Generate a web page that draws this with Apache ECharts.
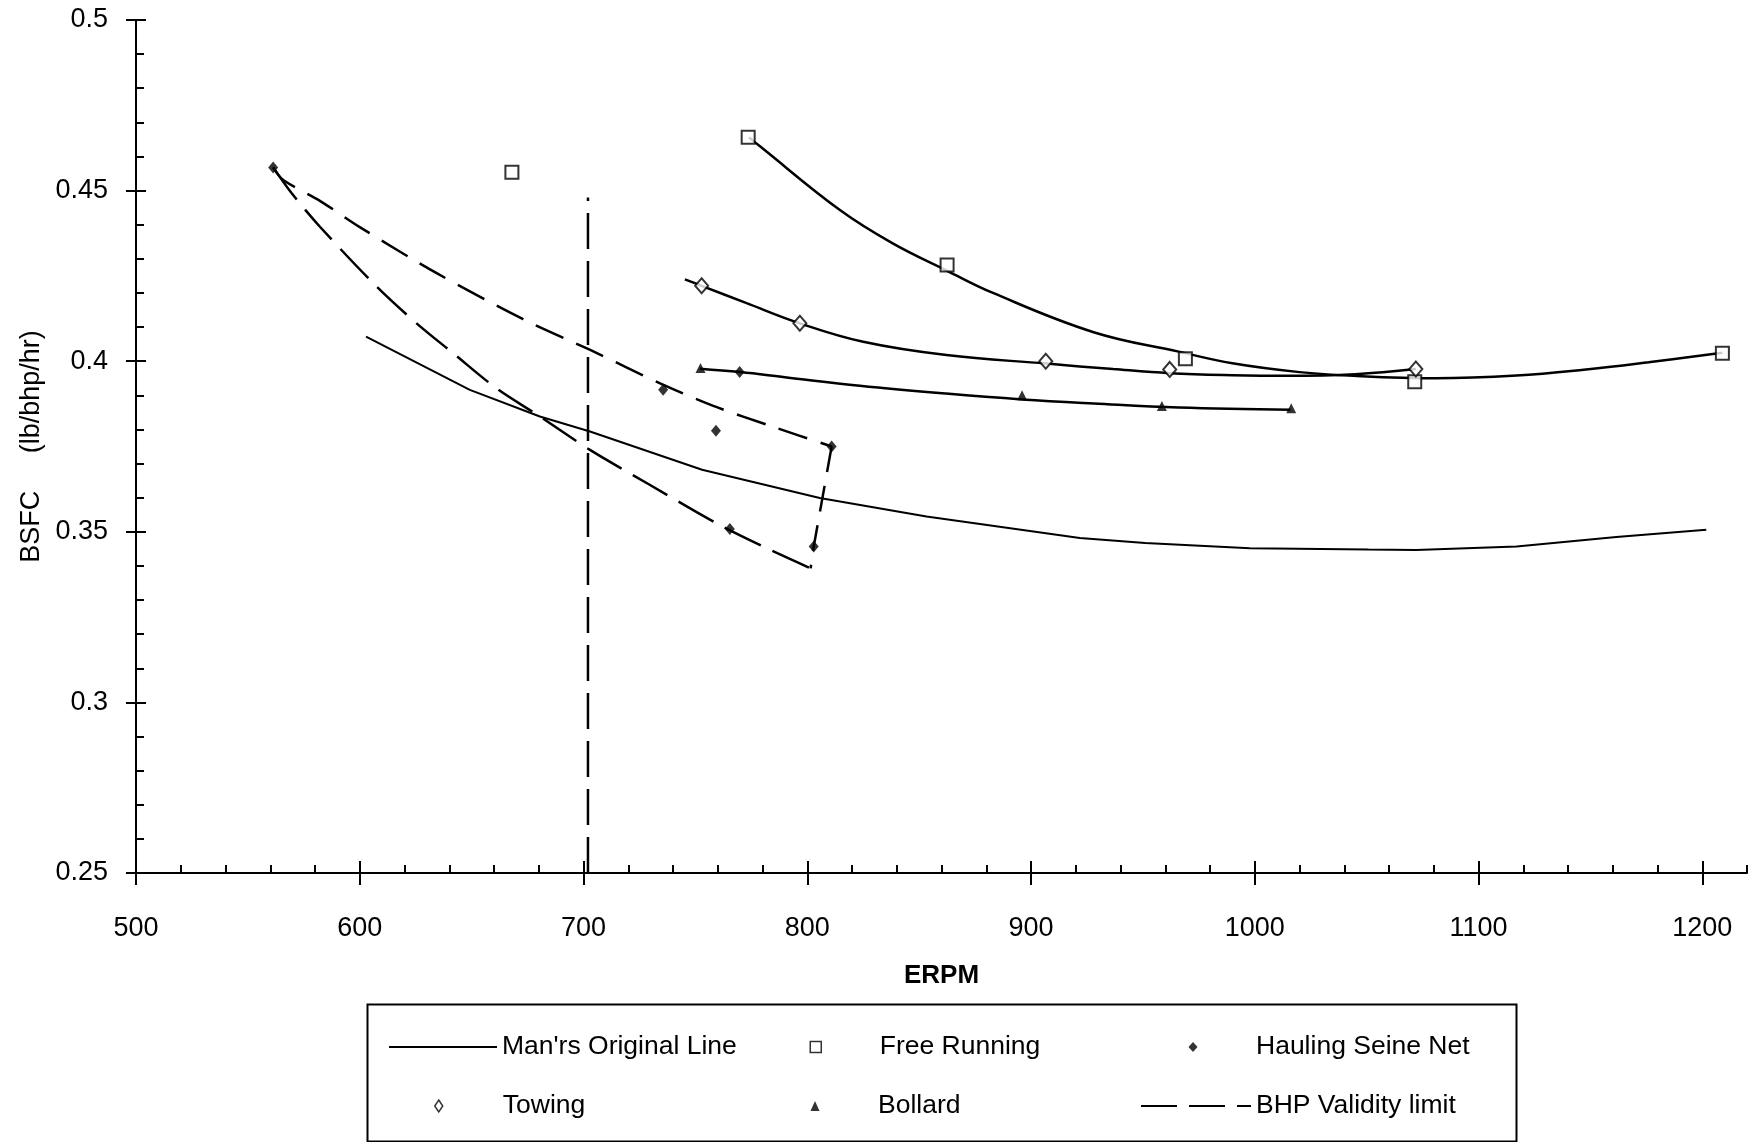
<!DOCTYPE html>
<html><head><meta charset="utf-8">
<script src="https://cdn.jsdelivr.net/npm/echarts@6/dist/echarts.min.js"></script>
<style>html,body{margin:0;padding:0;background:#fff}#c{width:1752px;height:1142px}</style>
</head><body><div id="c"></div>
<script>
// ---- data ----
const xTicks = [500, 600, 700, 800, 900, 1000, 1100, 1200];
const yTicks = [0.25, 0.3, 0.35, 0.4, 0.45, 0.5];

const freeRunning = [[668, 0.4554], [773.6, 0.4656], [862.5, 0.4282], [969, 0.4007], [1071.5, 0.3940], [1209, 0.4023]];
const towing = [[752.8, 0.4221], [796.7, 0.4111], [906.6, 0.4000], [962, 0.3976], [1072, 0.3977]];
const bollard = [[752.3, 0.3980], [896, 0.3900], [958.5, 0.3869], [1016.3, 0.3862]];
const hauling = [[561.3, 0.4568], [735.6, 0.3916], [759.2, 0.3796], [769.8, 0.3968], [810.9, 0.3750], [765.4, 0.3508], [802.9, 0.3457]];

const mansLine = [[602.8, 0.4072], [649.2, 0.3916], [680.5, 0.3838], [702.9, 0.3794], [753, 0.3682], [805.6, 0.3599], [853.3, 0.3545], [921.8, 0.3482], [951, 0.3467], [997.8, 0.3452], [1050.8, 0.3448], [1072, 0.3447], [1117, 0.3457], [1161.6, 0.3485], [1201.8, 0.3506]];
const bhpLimit = [[702, 0.25], [702, 0.448]];

const freeFit = [[774, 0.4656], [779, 0.4629], [814.6, 0.4443], [838, 0.4346], [862.5, 0.4265], [883, 0.4200], [928, 0.4085], [966, 0.4028], [990, 0.3994], [1020, 0.3968], [1044, 0.3957], [1081, 0.3950], [1117, 0.3958], [1147, 0.3975], [1176, 0.3997], [1209, 0.4025]];
const towFit = [[745.3, 0.4240], [752.8, 0.4221], [772.9, 0.4170], [796.7, 0.4111], [825, 0.4057], [862.2, 0.4018], [906.9, 0.3993], [936.7, 0.3977], [962, 0.3965], [990, 0.3959], [1015, 0.3957], [1045, 0.3962], [1072, 0.3977]];
const bollardFit = [[752, 0.3978], [770, 0.3968], [790, 0.3953], [823.5, 0.3928], [862, 0.3905], [896, 0.3888], [928, 0.3876], [966, 0.3864], [1016, 0.3858]];

const haulUpper = [[561.3, 0.4568], [565.8, 0.4531], [582.2, 0.4470], [600, 0.4393], [634.4, 0.4258], [673, 0.4123], [703, 0.4033], [734, 0.3936], [758, 0.3869], [784.7, 0.3808], [810.9, 0.3750]];
const haulSide = [[810.9, 0.3750], [802.9, 0.3457], [801.5, 0.3393]];
const haulLower = [[561.3, 0.4568], [569.6, 0.4492], [582.2, 0.4394], [607.5, 0.4219], [625.4, 0.4111], [641.8, 0.4023], [661.2, 0.3920], [680.5, 0.3838], [702.9, 0.3740], [729, 0.3640], [759.4, 0.3525], [781.8, 0.3452], [801.5, 0.3393]];

// ---- chart ----
const FONT = "'Liberation Sans', Arial, Helvetica, sans-serif";
const BLACK = '#000';
const lineBase = { color: BLACK, width: 2 };

function tickAxisX(interval, inside, length, custom) {
  const a = {
    type: 'value', min: 500, max: 1220, interval: interval, position: 'bottom', offset: 0,
    axisLine: { show: false, onZero: false },
    axisTick: { show: true, inside: inside, length: length, lineStyle: { color: BLACK, width: 2 } },
    axisLabel: { show: false }, splitLine: { show: false }
  };
  if (custom) a.axisTick.customValues = custom;
  return a;
}
function tickAxisY(interval, inside, length) {
  return {
    type: 'value', min: 0.25, max: 0.5, interval: interval, position: 'left', offset: 0,
    axisLine: { show: false, onZero: false },
    axisTick: { show: true, inside: inside, length: length, lineStyle: { color: BLACK, width: 2 } },
    axisLabel: { show: false }, splitLine: { show: false }
  };
}

// one legend block per item, placed like the boxed key of the reference
function lg(item, left, top, w, h, padLeft) {
  return {
    show: true, left: left, top: top, padding: 0, itemGap: 0, selectedMode: false,
    itemWidth: w, itemHeight: h, orient: 'horizontal',
    textStyle: { fontSize: 26.5, color: BLACK, fontFamily: FONT, padding: [0, 0, 0, padLeft || 0] },
    data: [item]
  };
}
const hiddenSym = { color: 'rgba(0,0,0,0)', borderWidth: 0, opacity: 0 };
const ROW1 = 1033.5, ROW2 = 1092.5;

const chart = echarts.init(document.getElementById('c'), null, { renderer: 'canvas' });
chart.setOption({
  animation: false,
  backgroundColor: '#fff',
  grid: { left: 136, right: 5, top: 20, bottom: 269, containLabel: false },
  xAxis: [
    {
      type: 'value', min: 500, max: 1220, interval: 100, position: 'bottom',
      axisLine: { show: true, onZero: false, lineStyle: lineBase },
      axisTick: { show: true, inside: false, length: 12, customValues: xTicks, lineStyle: lineBase },
      axisLabel: { show: true, customValues: xTicks, margin: 42, fontSize: 27, color: BLACK, fontFamily: FONT, formatter: function (v) { return String(v); } },
      splitLine: { show: false },
      name: 'ERPM', nameLocation: 'middle', nameGap: 90,
      nameTextStyle: { fontSize: 26, fontWeight: 'bold', color: BLACK, fontFamily: FONT }
    },
    tickAxisX(20, true, 8),
    tickAxisX(100, true, 12, xTicks)
  ],
  yAxis: [
    {
      type: 'value', min: 0.25, max: 0.5, interval: 0.05, position: 'left',
      axisLine: { show: true, onZero: false, lineStyle: lineBase },
      axisTick: { show: true, inside: false, length: 10, lineStyle: lineBase },
      axisLabel: { show: true, margin: 28, fontSize: 27, color: BLACK, fontFamily: FONT, formatter: function (v) { return String(+v.toFixed(2)); } },
      splitLine: { show: false },
      name: 'BSFC     (lb/bhp/hr)', nameLocation: 'middle', nameGap: 87,
      nameTextStyle: { fontSize: 27, color: BLACK, fontFamily: FONT }
    },
    tickAxisY(0.01, true, 8),
    tickAxisY(0.05, true, 10)
  ],
  legend: [
    lg({ name: "Man'rs Original Line", itemStyle: hiddenSym }, 388, ROW1, 108, 14, 0),
    lg({ name: 'Free Running', itemStyle: { color: '#fff', borderColor: BLACK, borderWidth: 1.5 } }, 809.5, ROW1, 11, 11, 53.5),
    lg({ name: 'Hauling Seine Net', itemStyle: { color: BLACK, borderWidth: 0 } }, 1188.5, ROW1, 9, 10, 53.5),
    lg({ name: 'Towing', itemStyle: { color: '#fff', borderColor: BLACK, borderWidth: 1.5 } }, 434, ROW2, 8, 12, 55),
    lg({ name: 'Bollard', itemStyle: { color: BLACK, borderWidth: 0 } }, 810.5, ROW2, 9, 10, 53.5),
    lg({ name: 'BHP Validity limit', itemStyle: hiddenSym }, 1140, ROW2, 110, 14, 0)
  ],
  graphic: [
    { type: 'rect', left: 365, top: 1002, shape: { width: 1149, height: 137 }, style: { fill: 'none', stroke: BLACK, lineWidth: 2 }, silent: true }
  ],
  series: [
    { name: "Man'rs Original Line", type: 'line', data: mansLine, symbol: 'none', smooth: false, lineStyle: { color: BLACK, width: 2 }, itemStyle: { color: BLACK }, z: 2 },
    { name: 'BHP Validity limit', type: 'line', data: bhpLimit, symbol: 'none', lineStyle: { color: BLACK, width: 2.5, type: [36, 12] }, itemStyle: { color: BLACK }, z: 2 },
    { name: 'haulUpper', type: 'line', data: haulUpper, symbol: 'none', smooth: 0.3, lineStyle: { color: BLACK, width: 2.5, type: [30, 14] }, z: 2 },
    { name: 'haulSide', type: 'line', data: haulSide, symbol: 'none', smooth: false, lineStyle: { color: BLACK, width: 2.5, type: [26, 14] }, z: 2 },
    { name: 'haulLower', type: 'line', data: haulLower, symbol: 'none', smooth: 0.3, lineStyle: { color: BLACK, width: 2.5, type: [40, 13] }, z: 2 },
    { name: 'freeFit', type: 'line', data: freeFit, symbol: 'none', smooth: 0.4, lineStyle: { color: BLACK, width: 2.5 }, z: 2 },
    { name: 'towFit', type: 'line', data: towFit, symbol: 'none', smooth: 0.4, lineStyle: { color: BLACK, width: 2.5 }, z: 2 },
    { name: 'bollardFit', type: 'line', data: bollardFit, symbol: 'none', smooth: 0.4, lineStyle: { color: BLACK, width: 2.5 }, z: 2 },
    { name: 'Free Running', type: 'scatter', data: freeRunning, symbol: 'rect', symbolSize: 13, itemStyle: { color: '#fff', borderColor: BLACK, borderWidth: 2 }, z: 5 },
    { name: 'Towing', type: 'scatter', data: towing, symbol: 'diamond', symbolSize: [13, 15], itemStyle: { color: '#fff', borderColor: BLACK, borderWidth: 2 }, z: 5 },
    { name: 'Hauling Seine Net', type: 'scatter', data: hauling, symbol: 'diamond', symbolSize: [10, 12], itemStyle: { color: BLACK }, z: 5 },
    { name: 'Bollard', type: 'scatter', data: bollard, symbol: 'triangle', symbolSize: [10, 10], itemStyle: { color: BLACK }, z: 5 }
  ]
});
</script>
</body></html>
